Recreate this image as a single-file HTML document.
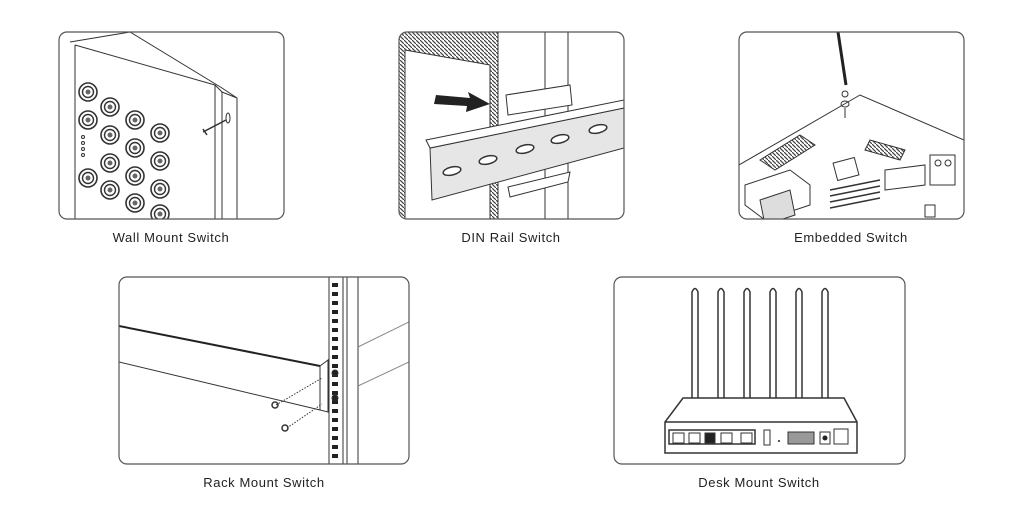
<!DOCTYPE html>
<html><head><style>
html,body{margin:0;padding:0;background:#fff;}
body{width:1024px;height:512px;position:relative;overflow:hidden;font-family:"Liberation Sans",sans-serif;}
.lbl{position:absolute;font-size:13px;color:#222;letter-spacing:0.6px;text-align:center;width:300px;}
svg{position:absolute;left:0;top:0;}
</style></head><body>
<svg width="1024" height="512" viewBox="0 0 1024 512" fill="none" stroke="#333" stroke-width="1">
<defs>
<clipPath id="c1"><rect x="59" y="32" width="225" height="187" rx="8"/></clipPath>
<clipPath id="c2"><rect x="399" y="32" width="225" height="187" rx="8"/></clipPath>
<clipPath id="c3"><rect x="739" y="32" width="225" height="187" rx="8"/></clipPath>
<clipPath id="c4"><rect x="119" y="277" width="290" height="187" rx="8"/></clipPath>
<pattern id="hatch" width="4" height="4" patternUnits="userSpaceOnUse"><rect width="4" height="4" fill="#fff" stroke="none"/><line x1="0" y1="0" x2="4" y2="4" stroke="#444" stroke-width="1.2"/></pattern>
<g id="conn"><circle r="9" fill="#fff" stroke="#333" stroke-width="1.6"/><circle r="5.5" stroke="#333" stroke-width="1.4"/><circle r="2.5" fill="#666" stroke="none"/></g>
</defs>
<!-- Box 1 wall -->
<g clip-path="url(#c1)">
<path d="M70 42 L130 32 M75 45 L215 85 L215 230 M75 45 L75 230 M215 85 L222 92 L222 230 M130 32 L222 88 L237 98 L237 230 M222 92 L237 98"/>
<use href="#conn" x="88" y="92"/><use href="#conn" x="88" y="120"/><use href="#conn" x="88" y="178"/>
<use href="#conn" x="110" y="107"/><use href="#conn" x="110" y="135"/><use href="#conn" x="110" y="163"/><use href="#conn" x="110" y="190"/>
<use href="#conn" x="135" y="120"/><use href="#conn" x="135" y="148"/><use href="#conn" x="135" y="176"/><use href="#conn" x="135" y="203"/>
<use href="#conn" x="160" y="133"/><use href="#conn" x="160" y="161"/><use href="#conn" x="160" y="189"/><use href="#conn" x="160" y="214"/>
<circle cx="83" cy="137" r="1.5"/><circle cx="83" cy="143" r="1.5"/><circle cx="83" cy="149" r="1.5"/><circle cx="83" cy="155" r="1.5"/>
<path d="M203 132 L226 120 M207 135 l-4 -6" stroke-width="1.5"/>
<ellipse cx="228" cy="118" rx="2" ry="5"/>
</g>
<rect x="59" y="32" width="225" height="187" rx="8" stroke="#555" stroke-width="1.2"/>
<!-- Box 2 DIN -->
<g clip-path="url(#c2)">
<rect x="399" y="32" width="100" height="190" fill="url(#hatch)" stroke="none"/>
<path d="M405 50 L490 65 L490 220 L405 220 Z" fill="#fff"/>
<rect x="498" y="32" width="70" height="190" fill="#fff"/>
<line x1="545" y1="32" x2="545" y2="222"/>
<path d="M506 95 L570 85 L572 105 L508 115 Z" fill="#fff"/>
<path d="M436 95 L470 98 L468 92 L490 104 L466 112 L467 106 L434 104 Z" fill="#222" stroke="none"/>
<path d="M430 148 L624 108 L624 148 L432 200 Z" fill="#e6e6e6" stroke="#333"/>
<path d="M426 140 L624 100 L624 108 L430 148 Z" fill="#fff"/>
<g fill="#fff" stroke="#333" stroke-width="1.5">
<ellipse cx="452" cy="171" rx="9" ry="4" transform="rotate(-13 452 171)"/>
<ellipse cx="488" cy="160" rx="9" ry="4" transform="rotate(-13 488 160)"/>
<ellipse cx="525" cy="149" rx="9" ry="4" transform="rotate(-13 525 149)"/>
<ellipse cx="560" cy="139" rx="9" ry="4" transform="rotate(-13 560 139)"/>
<ellipse cx="598" cy="129" rx="9" ry="4" transform="rotate(-13 598 129)"/>
</g>
<path d="M508 187 L570 172 L568 182 L510 197 Z" fill="#fff"/>
</g>
<rect x="399" y="32" width="225" height="187" rx="8" stroke="#555" stroke-width="1.2"/>
<!-- Box 3 embedded -->
<g clip-path="url(#c3)">
<path d="M739 165 L860 95 L964 140 L964 230 L739 230 Z" fill="#fff"/>
<path d="M760 160 L800 135 L815 145 L775 170 Z" fill="url(#hatch)"/>
<rect x="835" y="160" width="22" height="18" fill="#fff" transform="rotate(-15 846 169)"/>
<path d="M870 140 L905 150 L900 160 L865 150 Z" fill="url(#hatch)"/>
<path d="M885 170 L925 165 L925 185 L885 190 Z" fill="#fff"/>
<rect x="930" y="155" width="25" height="30" fill="#fff"/>
<circle cx="938" cy="163" r="3"/><circle cx="948" cy="163" r="3"/>
<path d="M745 185 L790 170 L810 185 L810 205 L765 220 L745 205 Z" fill="#fff"/>
<path d="M760 200 L790 190 L795 215 L765 225 Z" fill="#ddd"/>
<path d="M830 190 L880 180 M830 196 L880 186 M830 202 L880 192 M830 208 L880 198" stroke-width="1.5"/>
<rect x="925" y="205" width="10" height="12" fill="#fff"/>
<path d="M838 32 L846 85" stroke="#222" stroke-width="3"/>
<ellipse cx="845" cy="104" rx="4" ry="3"/>
<path d="M845 108 L845 118"/>
<ellipse cx="845" cy="94" rx="3" ry="3"/>
</g>
<rect x="739" y="32" width="225" height="187" rx="8" stroke="#555" stroke-width="1.2"/>
<!-- Box 4 rack -->
<g clip-path="url(#c4)">
<rect x="329" y="277" width="14" height="190" fill="#fff"/>
<g fill="#222" stroke="none">
<rect x="332" y="283" width="6" height="4"/><rect x="332" y="292" width="6" height="4"/><rect x="332" y="301" width="6" height="4"/><rect x="332" y="310" width="6" height="4"/><rect x="332" y="319" width="6" height="4"/><rect x="332" y="328" width="6" height="4"/><rect x="332" y="337" width="6" height="4"/><rect x="332" y="346" width="6" height="4"/><rect x="332" y="355" width="6" height="4"/><rect x="332" y="364" width="6" height="4"/><rect x="332" y="373" width="6" height="4"/><rect x="332" y="382" width="6" height="4"/><rect x="332" y="391" width="6" height="4"/><rect x="332" y="400" width="6" height="4"/><rect x="332" y="409" width="6" height="4"/><rect x="332" y="418" width="6" height="4"/><rect x="332" y="427" width="6" height="4"/><rect x="332" y="436" width="6" height="4"/><rect x="332" y="445" width="6" height="4"/><rect x="332" y="454" width="6" height="4"/>
</g>
<line x1="347" y1="277" x2="347" y2="467"/><line x1="358" y1="277" x2="358" y2="467"/>
<path d="M358 347 L409 322 M358 386 L409 362" stroke="#888"/>
<path d="M119 326 L320 366" stroke="#222" stroke-width="2"/>
<path d="M119 362 L320 410"/>
<path d="M320 366 L328 360 L328 412 L320 410 Z" fill="#fff"/>
<circle cx="335" cy="373" r="3" fill="#222"/><circle cx="335" cy="398" r="3" fill="#222"/>
<path d="M276 405 L322 378 M287 428 L322 404" stroke-dasharray="1.5 1.5"/>
<circle cx="275" cy="405" r="3" stroke-width="1.5"/><circle cx="285" cy="428" r="3" stroke-width="1.5"/>
</g>
<rect x="119" y="277" width="290" height="187" rx="8" stroke="#555" stroke-width="1.2"/>
<!-- Box 5 desk -->
<g stroke-width="1.5">
<path d="M692 398 L692 292 Q695 285 698 292 L698 398"/>
<path d="M718 398 L718 292 Q721 285 724 292 L724 398"/>
<path d="M744 398 L744 292 Q747 285 750 292 L750 398"/>
<path d="M770 398 L770 292 Q773 285 776 292 L776 398"/>
<path d="M796 398 L796 292 Q799 285 802 292 L802 398"/>
<path d="M822 398 L822 292 Q825 285 828 292 L828 398"/>
<path d="M683 398 L844 398 L857 422 L857 453 L665 453 L665 422 Z" fill="#fff"/>
<line x1="665" y1="422" x2="857" y2="422"/>
<rect x="669" y="430" width="86" height="14"/>
</g>
<g fill="#fff" stroke="#333">
<rect x="673" y="433" width="11" height="10"/><rect x="689" y="433" width="11" height="10"/>
<rect x="705" y="433" width="10" height="10" fill="#222"/>
<rect x="721" y="433" width="11" height="10"/><rect x="741" y="433" width="11" height="10"/>
<rect x="764" y="430" width="6" height="15"/>
<rect x="788" y="432" width="26" height="12" fill="#999"/>
<rect x="820" y="432" width="10" height="12"/>
<rect x="834" y="429" width="14" height="15"/>
</g>
<circle cx="825" cy="438" r="2.5" fill="#222" stroke="none"/>
<circle cx="779" cy="441" r="1" fill="#222" stroke="none"/>
<rect x="614" y="277" width="291" height="187" rx="8" stroke="#555" stroke-width="1.2"/>
</svg>
<div class="lbl" style="left:21px;top:230px;">Wall Mount Switch</div>
<div class="lbl" style="left:361px;top:230px;">DIN Rail Switch</div>
<div class="lbl" style="left:701px;top:230px;">Embedded Switch</div>
<div class="lbl" style="left:114px;top:475px;">Rack Mount Switch</div>
<div class="lbl" style="left:609px;top:475px;">Desk Mount Switch</div>
</body></html>
